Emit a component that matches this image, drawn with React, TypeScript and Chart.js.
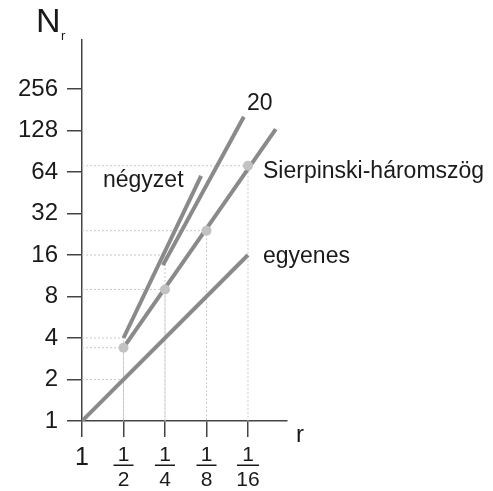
import React, { useEffect, useRef } from 'react';
import { Chart, registerables } from 'chart.js';
Chart.register(...registerables);

// log2 steps of 1/r : 0 -> r=1, 1 -> 1/2, 2 -> 1/4, 3 -> 1/8, 4 -> 1/16
const xSteps = [0, 1, 2, 3, 4];
const xTickDenominators = ['', '2', '4', '8', '16'];
const ySteps = [0, 1, 2, 3, 4, 5, 6, 7, 8];
const yTickLabels = ['1', '2', '4', '8', '16', '32', '64', '128', '256'];

// lines (k = log2(1/r), N = count)
const egyenesK = [0, 4];
const egyenesN = [1, 16];
const negyzetK = [1, 2.87];
const negyzetN = [4, 60];
const line20K = [1.95, 3.9];
const line20N = [13.5, 161];
const sierpLineK = [1, 4.67];
const sierpLineN = [3.4, 131];
const sierpPointK = [1, 2, 3, 4];
const sierpPointN = [3.4, 9, 24, 71];
// guide (dotted) reference points
const guideK = [1, 2, 3, 4, 1, 2, 1];
const guideN = [3.4, 9, 24, 71, 4, 16, 2];

const FONT = '"Liberation Sans", Arial, Helvetica, sans-serif';
const LINE = '#8a8a8a';
const AXIS = '#444444';
const TEXT = '#1a1a1a';

const pts = (ks: number[], ns: number[]) => ks.map((k, i) => ({ x: k, y: Math.log2(ns[i]) }));

export default function App() {
  const ref = useRef<HTMLCanvasElement>(null);
  useEffect(() => {
    if (!ref.current) return;
    const guides = guideK.map((k, i) => ({
      type: 'line' as const,
      data: [
        { x: 0, y: Math.log2(guideN[i]) },
        { x: k, y: Math.log2(guideN[i]) },
        { x: k, y: 0 },
      ],
      borderColor: '#c8c8c8',
      borderWidth: 1,
      borderDash: [2, 2],
      pointRadius: 0,
      fill: false,
    }));
    const lineDs = (data: any) => ({
      data,
      borderColor: LINE,
      borderWidth: 4,
      pointRadius: 0,
      fill: false,
    });
    const labelPlugin = {
      id: 'labels',
      afterDraw(chart: any) {
        const ctx = chart.ctx;
        const xs = chart.scales.x;
        ctx.save();
        ctx.fillStyle = TEXT;
        ctx.textAlign = 'left';
        ctx.textBaseline = 'alphabetic';
        ctx.font = `34px ${FONT}`;
        ctx.fillText('N', 36, 32);
        ctx.font = `13px ${FONT}`;
        ctx.fillText('r', 61, 40);
        ctx.font = `24px ${FONT}`;
        ctx.fillText('r', 296, 442);
        ctx.font = `23px ${FONT}`;
        ctx.fillText('20', 247, 110);
        ctx.fillText('négyzet', 103, 187);
        ctx.fillText('Sierpinski-háromszög', 263, 178);
        ctx.fillText('egyenes', 263, 263);
        ctx.textAlign = 'center';
        ctx.textBaseline = 'middle';
        xSteps.forEach((k, i) => {
          const px = xs.getPixelForValue(k);
          if (!xTickDenominators[i]) {
            ctx.font = `25px ${FONT}`;
            ctx.fillText('1', px, 458);
          } else {
            ctx.font = `21px ${FONT}`;
            ctx.fillText('1', px, 455);
            ctx.fillText(xTickDenominators[i], px, 480);
            const w = xTickDenominators[i].length > 1 ? 22 : 20;
            ctx.fillRect(px - w / 2, 464.5, w, 1.5);
          }
        });
        ctx.restore();
      },
    };
    const chart = new Chart(ref.current, {
      type: 'line',
      data: {
        datasets: [
          {
            data: pts(sierpPointK, sierpPointN),
            showLine: false,
            pointRadius: 5,
            pointBackgroundColor: '#c2c2c2',
            pointBorderWidth: 0,
            borderColor: '#c2c2c2',
          },
          lineDs(pts(sierpLineK, sierpLineN)),
          lineDs(pts(negyzetK, negyzetN)),
          lineDs(pts(line20K, line20N)),
          lineDs(pts(egyenesK, egyenesN)),
          ...guides,
        ] as any,
      },
      options: {
        animation: false,
        responsive: false,
        layout: { padding: { top: 40, right: 206, bottom: 0, left: 0 } },
        plugins: { legend: { display: false }, tooltip: { enabled: false } },
        scales: {
          x: {
            type: 'linear',
            min: 0,
            max: 4.94,
            afterBuildTicks: (s: any) => { s.ticks = xSteps.map((v) => ({ value: v })); },
            afterFit: (s: any) => { s.height = 70; },
            grid: { display: true, drawOnChartArea: false, drawTicks: true, tickLength: 16, color: AXIS, lineWidth: 1.5 },
            border: { display: true, color: AXIS, width: 1.5 },
            ticks: { display: false },
          },
          y: {
            type: 'linear',
            min: 0,
            max: 9.18,
            afterBuildTicks: (s: any) => { s.ticks = ySteps.map((v) => ({ value: v })); },
            afterFit: (s: any) => { s.width = 82; },
            grid: { display: true, drawOnChartArea: false, drawTicks: true, tickLength: 15, color: AXIS, lineWidth: 1.5 },
            border: { display: true, color: AXIS, width: 1.5 },
            ticks: {
              padding: 9,
              color: TEXT,
              font: { family: FONT, size: 24 },
              callback: (v: any) => yTickLabels[ySteps.indexOf(Number(v))] ?? '',
            },
          },
        },
      },
      plugins: [labelPlugin],
    } as any);
    return () => chart.destroy();
  }, []);
  return (
    <div style={{ position: 'absolute', left: 0, top: 0, width: 493, height: 491, background: '#fff' }}>
      <canvas ref={ref} width={493} height={491} />
    </div>
  );
}
